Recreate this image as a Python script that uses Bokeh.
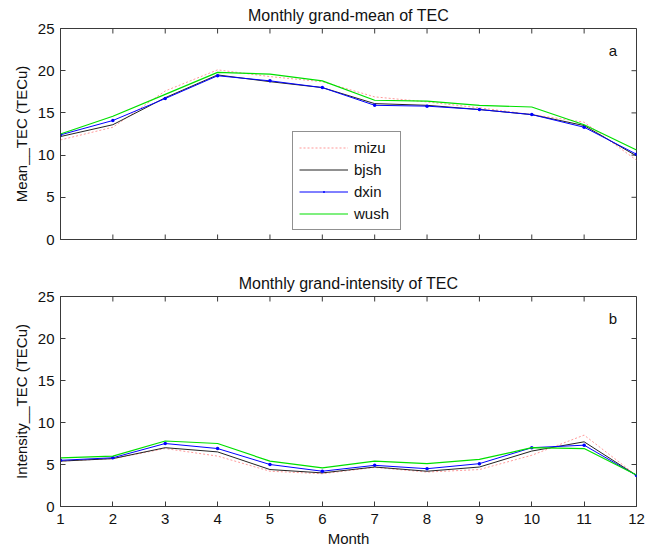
import math
from bokeh.plotting import figure
from bokeh.layouts import column
from bokeh.models import Range1d, FixedTicker, Label, Legend
from bokeh.embed import file_html
from bokeh.resources import INLINE

months = [1, 2, 3, 4, 5, 6, 7, 8, 9, 10, 11, 12]
stations = ["mizu", "bjsh", "dxin", "wush"]

mean_mizu = [11.8, 13.3, 17.6, 20.1, 19.3, 18.7, 16.9, 16.3, 15.6, 14.8, 13.9, 9.4]
mean_bjsh = [12.2, 13.6, 16.8, 19.5, 18.7, 18.0, 16.1, 15.9, 15.4, 14.8, 13.5, 9.9]
mean_dxin = [12.4, 14.1, 16.7, 19.4, 18.8, 18.0, 15.9, 15.8, 15.4, 14.8, 13.3, 10.1]
mean_wush = [12.5, 14.6, 17.2, 19.8, 19.6, 18.8, 16.5, 16.4, 15.9, 15.7, 13.6, 10.6]

int_mizu = [5.4, 5.7, 6.9, 6.0, 4.2, 3.9, 4.65, 4.1, 4.4, 6.1, 8.5, 3.7]
int_bjsh = [5.4, 5.7, 7.0, 6.5, 4.4, 4.0, 4.7, 4.2, 4.7, 6.6, 7.7, 3.7]
int_dxin = [5.5, 5.8, 7.5, 6.9, 5.0, 4.2, 4.9, 4.5, 5.1, 7.0, 7.3, 3.7]
int_wush = [5.8, 6.0, 7.8, 7.5, 5.4, 4.6, 5.4, 5.1, 5.6, 7.0, 6.9, 3.75]

y_ticks = [0, 5, 10, 15, 20, 25]

FONT = "Liberation Sans"
AXC = "#3a3a3a"
TXT = "#111111"


def style_axis(ax):
    ax.major_tick_in = 5
    ax.major_tick_out = 0
    ax.minor_tick_in = 0
    ax.minor_tick_out = 0
    ax.axis_line_color = AXC
    ax.major_tick_line_color = AXC
    ax.major_label_text_font = FONT
    ax.major_label_text_font_size = "15px"
    ax.major_label_text_color = TXT
    ax.axis_label_text_font = FONT
    ax.axis_label_text_font_size = "15px"
    ax.axis_label_text_font_style = "normal"
    ax.axis_label_text_color = TXT


def make_panel(title, ylabel, series, letter, height, top, bottom, show_x):
    x0, x1 = months[0], months[-1]
    y0, y1 = y_ticks[0], y_ticks[-1]
    p = figure(width=654, height=height, output_backend="svg", toolbar_location=None,
               x_range=Range1d(x0, x1), y_range=Range1d(y0, y1),
               min_border_left=60, min_border_right=18,
               min_border_top=top, min_border_bottom=bottom,
               background_fill_color="white", border_fill_color="white")
    p.title.text = title
    p.title.align = "center"
    p.title.text_font = FONT
    p.title.text_font_size = "16px"
    p.title.text_font_style = "normal"
    p.title.text_color = TXT
    p.title.standoff = 9
    p.grid.visible = False
    p.outline_line_color = AXC
    p.xaxis.ticker = FixedTicker(ticks=months)
    p.yaxis.ticker = FixedTicker(ticks=y_ticks)
    style_axis(p.xaxis[0])
    style_axis(p.yaxis[0])
    p.yaxis.axis_label = ylabel
    p.yaxis.major_label_standoff = 6
    p.yaxis.axis_label_standoff = 5
    if show_x:
        p.xaxis.axis_label = "Month"
        p.xaxis.major_label_standoff = 7
        p.xaxis.axis_label_standoff = 3
    else:
        p.xaxis.visible = False
        # inward ticks on the bottom edge (no labels in the reference)
        p.ray(x=months, y=[y0] * len(months), length=5, length_units="screen",
              angle=math.pi / 2, line_color=AXC, line_width=1)
    # inward ticks on the top and right edges (box on)
    p.ray(x=months, y=[y1] * len(months), length=5, length_units="screen",
          angle=-math.pi / 2, line_color=AXC, line_width=1)
    p.ray(x=[x1] * len(y_ticks), y=y_ticks, length=5, length_units="screen",
          angle=math.pi, line_color=AXC, line_width=1)

    r_mizu = p.line(months, series[0], line_color="#ff8080", line_width=1, line_dash="2 2", line_alpha=0.8)
    r_bjsh = p.line(months, series[1], line_color="#222222", line_width=1)
    r_dxin = p.line(months, series[2], line_color="#0000ff", line_width=1)
    r_dxin_m = p.scatter(months, series[2], marker="dot", size=14, fill_color="#0000ff", line_color="#0000ff")
    r_wush = p.line(months, series[3], line_color="#00e000", line_width=1.2)

    lab = Label(x=11.55, y=22.4, text=letter, text_font=FONT, text_font_size="15px",
                text_align="center", text_baseline="middle", text_color=TXT)
    p.add_layout(lab)
    return p, [r_mizu, r_bjsh, [r_dxin, r_dxin_m], r_wush]


p1, rs1 = make_panel("Monthly grand-mean of TEC", "Mean__TEC (TECu)",
                     [mean_mizu, mean_bjsh, mean_dxin, mean_wush], "a", 255, 28, 16, False)
p2, rs2 = make_panel("Monthly grand-intensity of TEC", "Intensity__TEC (TECu)",
                     [int_mizu, int_bjsh, int_dxin, int_wush], "b", 294, 41, 42, True)

items = []
for name, r in zip(stations, rs1):
    items.append((name, r if isinstance(r, list) else [r]))
legend = Legend(items=items, location=(232, 9), orientation="vertical",
                label_text_font=FONT, label_text_font_size="15px", label_text_color=TXT,
                glyph_width=49, glyph_height=19, label_height=19, label_width=40,
                label_standoff=6, spacing=3, padding=6, margin=0,
                border_line_color="#222222", border_line_width=1,
                background_fill_color="white", background_fill_alpha=1.0)
p1.add_layout(legend, "center")

layout = column(p1, p2, spacing=0)
open("out.html", "w").write(file_html(layout, INLINE))
